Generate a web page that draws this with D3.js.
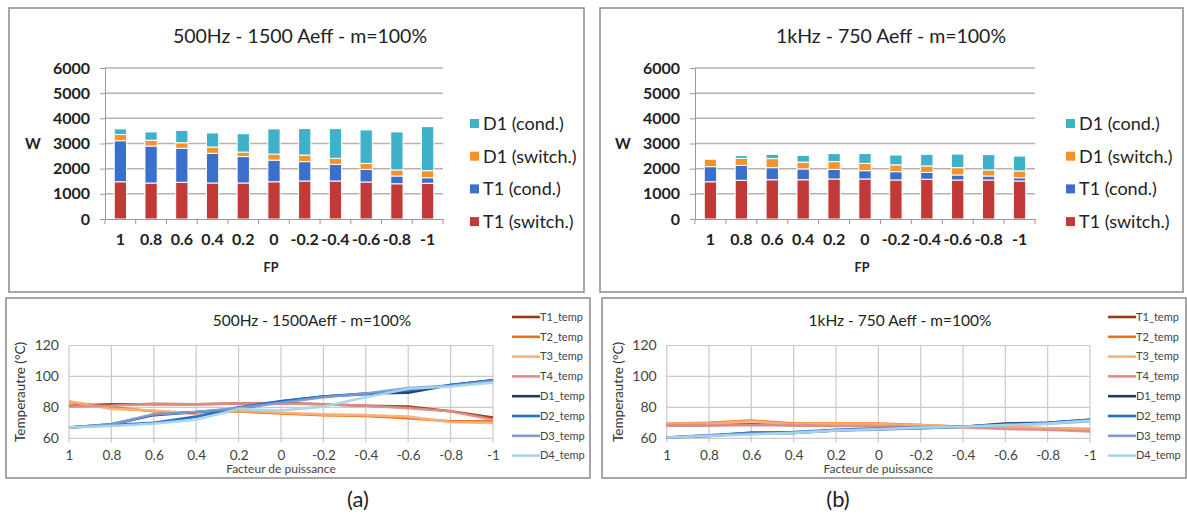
<!DOCTYPE html>
<html><head><meta charset="utf-8">
<script src="https://cdn.jsdelivr.net/npm/d3@7"></script>
<style>body{margin:0;background:#fff;} svg{display:block;} text{font-family:Lato,"Open Sans",sans-serif;}</style>
</head><body>
<svg id="c" width="1187" height="517"></svg>
<script>
// ---------- DATA ----------
const fpLabels = ["1","0.8","0.6","0.4","0.2","0","-0.2","-0.4","-0.6","-0.8","-1"];
const fpValues = [1,0.8,0.6,0.4,0.2,0,-0.2,-0.4,-0.6,-0.8,-1];
const barKeys = ["T1 (switch.)","T1 (cond.)","D1 (switch.)","D1 (cond.)"];
const barYTicks = [0,1000,2000,3000,4000,5000,6000];

const barA_T1sw   = [1480,1430,1460,1430,1430,1480,1510,1510,1470,1400,1420];
const barA_T1cond = [1630,1470,1350,1180,1050,860,770,660,500,310,220];
const barA_D1sw   = [250,230,220,250,180,240,260,240,240,240,280];
const barA_D1cond = [220,330,490,560,730,1000,1050,1180,1330,1510,1750];

const barB_T1sw   = [1480,1540,1560,1560,1590,1590,1550,1580,1550,1550,1510];
const barB_T1cond = [600,590,480,430,380,330,330,270,200,160,130];
const barB_D1sw   = [300,280,360,270,310,290,270,260,290,240,270];
const barB_D1cond = [30,110,170,270,320,390,390,460,540,610,590];

const lineKeys = ["T1_temp","T2_temp","T3_temp","T4_temp","D1_temp","D2_temp","D3_temp","D4_temp"];
const lineYTicks = [60,80,100,120];

const lineA_T1 = [81,82,82,82,82.5,82.8,82,81,80.5,77.5,73.5];
const lineA_T2 = [83.5,80,77.5,76,77.5,76,75,74.5,73,71,71];
const lineA_T3 = [84,79,78,76,78,76.5,75.5,75,74,70.5,70];
const lineA_T4 = [80.5,81,82.5,82,82.5,82.5,82,81,79.5,77.5,72];
const lineA_D1 = [67,69,75,77,79,84,87,89,89.5,94.5,97.5];
const lineA_D2 = [67,68.5,70,74,80,84,87,88.5,91,94.5,97.5];
const lineA_D3 = [67,69,75.5,77,79.5,83,86.5,89,92.5,94,97];
const lineA_D4 = [67,68,69.5,72,79,78,80.5,86.5,92,93.5,96];

const lineB_T1 = [68.5,68.5,69,68.5,68.5,68.5,68,67.5,66.5,66,65];
const lineB_T2 = [69.5,70,71.5,69.5,69.5,69.5,68.5,67.5,67,66.5,66];
const lineB_T3 = [69.5,69.5,71,69,69,69,68.5,67.5,67,66.5,65.5];
const lineB_T4 = [68.5,68.5,68.5,68.5,68,68,67.5,67,66,65.5,64.5];
const lineB_D1 = [60.5,61.5,63.5,63.5,65,66,66.5,67.5,69.5,70,72];
const lineB_D2 = [60.5,62,63.5,64,65.5,66.5,67,67.5,69,70,72];
const lineB_D3 = [60.5,62,63,63.5,65,65.5,66.5,67.5,68.5,69.5,71];
const lineB_D4 = [60.5,61.5,62.5,63.5,65,66,67,67.5,68.5,69.5,71.5];

// ---------- STYLE ----------
const barColors = {"T1 (switch.)":"#c13a37","T1 (cond.)":"#3b6fcc","D1 (switch.)":"#f5932a","D1 (cond.)":"#3fb1cb"};
const lineColors = {"T1_temp":"#9a3d15","T2_temp":"#ec6e16","T3_temp":"#f8b27a","T4_temp":"#de8f8c",
  "D1_temp":"#1c3a6b","D2_temp":"#1e6fc2","D3_temp":"#7f9bd6","D4_temp":"#a9d6ea"};

const svg = d3.select("#c");

function panel(x,y,w,h){
  svg.append("rect").attr("x",x).attr("y",y).attr("width",w).attr("height",h)
    .attr("fill","#fff").attr("stroke","#8a8a8a").attr("stroke-width",1.5);
}

function barChart(cfg, series, title){
  panel(cfg.px,cfg.py,cfg.pw,cfg.ph);
  const data = fpLabels.map((l,i)=>{const o={fp:l}; barKeys.forEach((k,j)=>o[k]=series[j][i]); return o;});
  const x = d3.scaleBand().domain(fpLabels).range([cfg.x0,cfg.x1]).paddingInner(0.6).paddingOuter(0.3);
  const xb = d3.scaleBand().domain(fpLabels).range([cfg.x0,cfg.x1]);
  const y = d3.scaleLinear().domain([0,6000]).range([cfg.y0,cfg.y1]);
  const g = svg.append("g");
  g.selectAll(".gl").data(barYTicks.filter(t=>t>0)).join("line")
    .attr("x1",cfg.x0).attr("x2",cfg.x1).attr("y1",d=>y(d)).attr("y2",d=>y(d))
    .attr("stroke","#bdb0ab").attr("stroke-width",1.5);
  const ya = g.append("g").attr("transform",`translate(${cfg.x0},0)`)
    .call(d3.axisLeft(y).tickValues(barYTicks).tickSize(5).tickPadding(10).tickFormat(d3.format("d")));
  ya.select(".domain").attr("stroke","#999");
  ya.selectAll(".tick line").attr("stroke","#999");
  ya.selectAll("text").attr("font-size",16).attr("font-weight",700).attr("fill","#222");
  const st = d3.stack().keys(barKeys)(data);
  g.selectAll(".s").data(st).join("g").attr("fill",d=>barColors[d.key])
    .selectAll("rect").data(d=>d).join("rect")
    .attr("x",d=>x(d.data.fp)).attr("width",x.bandwidth())
    .attr("y",d=>y(d[1])).attr("height",d=>y(d[0])-y(d[1]))
    .attr("stroke","#fff").attr("stroke-width",1);
  const xa = g.append("g").attr("transform",`translate(0,${cfg.y0})`)
    .call(d3.axisBottom(xb).tickSize(0).tickPadding(15));
  xa.select(".domain").attr("stroke","#999").attr("stroke-width",1.2);
  xa.selectAll("text").attr("font-size",16).attr("font-weight",700).attr("fill","#222");
  g.selectAll(".bt").data(fpLabels.concat(["end"])).join("line")
    .attr("x1",(d,i)=>cfg.x0+i*xb.step()).attr("x2",(d,i)=>cfg.x0+i*xb.step())
    .attr("y1",cfg.y0).attr("y2",cfg.y0+5).attr("stroke","#999");
  g.append("text").attr("x",(cfg.x0+cfg.x1)/2+26).attr("y",cfg.py+35).attr("text-anchor","middle")
    .attr("font-size",19.5).attr("fill","#222").text(title);
  g.append("text").attr("x",cfg.x0-72).attr("y",y(3000)+5).attr("text-anchor","middle")
    .attr("font-size",15).attr("font-weight",700).attr("fill","#222").text("W");
  g.append("text").attr("x",(cfg.x0+cfg.x1)/2-3).attr("y",cfg.y0+53).attr("text-anchor","middle")
    .attr("font-size",12.5).attr("font-weight",700).attr("fill","#222").text("FP");
  const lg = g.append("g");
  barKeys.slice().reverse().forEach((k,i)=>{
    const ly = cfg.ly + i*32.7;
    lg.append("rect").attr("x",cfg.lx).attr("y",ly-5).attr("width",9).attr("height",9).attr("fill",barColors[k]);
    lg.append("text").attr("x",cfg.lx+13).attr("y",ly+6).attr("font-size",18).attr("fill","#222").text(k);
  });
}

function lineChart(cfg, series, title){
  panel(cfg.px,cfg.py,cfg.pw,cfg.ph);
  const x = d3.scaleLinear().domain([1,-1]).range([cfg.x0,cfg.x1]);
  const y = d3.scaleLinear().domain([60,120]).range([cfg.y0,cfg.y1]);
  const g = svg.append("g");
  g.selectAll(".hg").data(lineYTicks).join("line")
    .attr("x1",cfg.x0).attr("x2",cfg.x1).attr("y1",d=>y(d)).attr("y2",d=>y(d))
    .attr("stroke","#cacaca").attr("stroke-width",1.2);
  g.selectAll(".vg").data(fpValues).join("line")
    .attr("x1",d=>x(d)).attr("x2",d=>x(d)).attr("y1",y(120)).attr("y2",y(60)+4)
    .attr("stroke","#cacaca").attr("stroke-width",1.2);
  const ya = g.append("g").attr("transform",`translate(${cfg.x0},0)`)
    .call(d3.axisLeft(y).tickValues(lineYTicks).tickSize(0).tickPadding(10));
  ya.select(".domain").remove();
  ya.selectAll("text").attr("font-size",14).attr("fill","#444");
  const xa = g.append("g").attr("transform",`translate(0,${cfg.y0})`)
    .call(d3.axisBottom(x).tickValues(fpValues).tickSize(0).tickPadding(12).tickFormat((d,i)=>fpLabels[i]));
  xa.select(".domain").remove();
  xa.selectAll("text").attr("font-size",13.5).attr("fill","#444");
  const line = d3.line().x((d,i)=>x(fpValues[i])).y(d=>y(d));
  lineKeys.forEach((k,j)=>{
    g.append("path").datum(series[j]).attr("d",line).attr("fill","none")
      .attr("stroke",lineColors[k]).attr("stroke-width",2.6).attr("stroke-linejoin","round").attr("opacity",0.95);
  });
  g.append("text").attr("x",cfg.tx).attr("y",cfg.py+28).attr("text-anchor","middle")
    .attr("font-size",15.5).attr("fill","#222").text(title);
  g.append("text").attr("transform",`translate(${cfg.x0-44},${(cfg.y0+cfg.y1)/2}) rotate(-90)`)
    .attr("text-anchor","middle").attr("font-size",13.5).attr("fill","#333").text("Temperautre (°C)");
  g.append("text").attr("x",x(0)).attr("y",cfg.y0+35).attr("text-anchor","middle")
    .attr("font-size",12).attr("fill","#444").text("Facteur de puissance");
  lineKeys.forEach((k,i)=>{
    const ly = cfg.ly + i*19.8;
    g.append("line").attr("x1",cfg.lx).attr("x2",cfg.lx+28).attr("y1",ly).attr("y2",ly)
      .attr("stroke",lineColors[k]).attr("stroke-width",2.6);
    g.append("text").attr("x",cfg.lx+28).attr("y",ly+3.8).attr("font-size",11).attr("fill","#444").text(k);
  });
}

barChart({px:9,py:8,pw:575,ph:284,x0:105,x1:443,y0:219,y1:68,lx:470,ly:124},
  [barA_T1sw,barA_T1cond,barA_D1sw,barA_D1cond],"500Hz - 1500 Aeff - m=100%");
barChart({px:600,py:8,pw:583,ph:284,x0:695,x1:1035,y0:219,y1:68,lx:1066,ly:124},
  [barB_T1sw,barB_T1cond,barB_D1sw,barB_D1cond],"1kHz - 750 Aeff - m=100%");
lineChart({px:6,py:298,pw:584,ph:180,x0:69,x1:493,y0:438.3,y1:345.5,lx:512,ly:317,tx:312},
  [lineA_T1,lineA_T2,lineA_T3,lineA_T4,lineA_D1,lineA_D2,lineA_D3,lineA_D4],"500Hz - 1500Aeff - m=100%");
lineChart({px:602,py:298,pw:584,ph:180,x0:666.7,x1:1090,y0:438.3,y1:345.5,lx:1108,ly:317,tx:900},
  [lineB_T1,lineB_T2,lineB_T3,lineB_T4,lineB_D1,lineB_D2,lineB_D3,lineB_D4],"1kHz - 750 Aeff - m=100%");

svg.append("text").attr("x",358).attr("y",507).attr("text-anchor","middle").attr("font-size",22).attr("fill","#222").text("(a)");
svg.append("text").attr("x",838).attr("y",507).attr("text-anchor","middle").attr("font-size",22).attr("fill","#222").text("(b)");
</script>
</body></html>
